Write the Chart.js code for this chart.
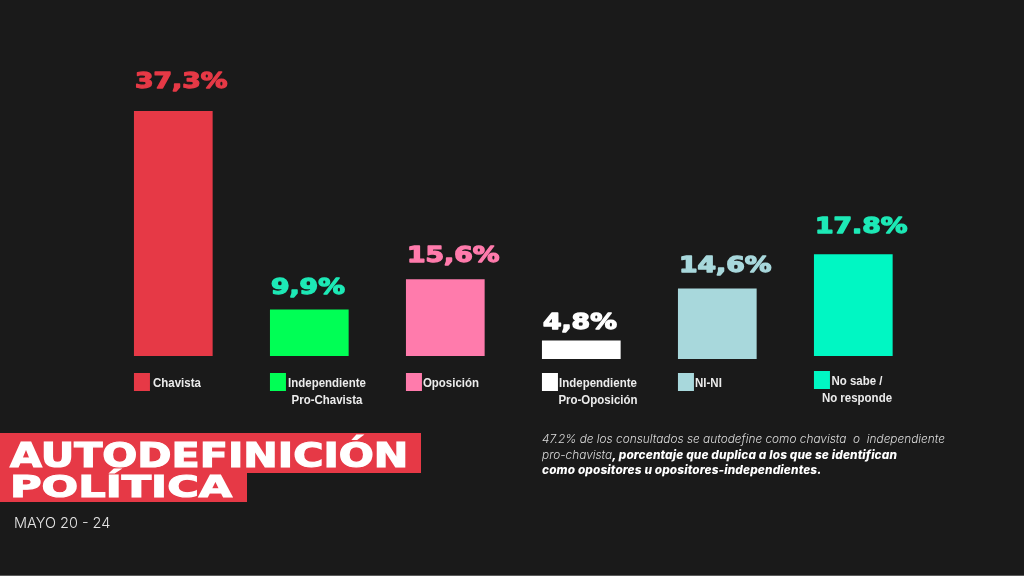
<!DOCTYPE html>
<html>
<head>
<meta charset="utf-8">
<script src="https://cdn.jsdelivr.net/npm/chart.js@4/dist/chart.umd.min.js"></script>
<style>
html, body { margin: 0; padding: 0; background: #1a1a1a; }
#page { position: relative; width: 1024px; height: 576px; overflow: hidden; background: #1a1a1a; }
#rateCanvas { position: absolute; left: 0; top: 0; }
.band { position: absolute; left: 0; background: #e63946; }
.head { position: absolute; font-family: "DejaVu Sans"; font-weight: bold; color: #fff; white-space: nowrap; transform-origin: 0 0; line-height: 1; -webkit-text-stroke: 1.2px #fff; }
#dates { position: absolute; left: 14px; top: 514px; font: 300 14.5px Inter; color: #e4e4e4; white-space: nowrap; }
#note { position: absolute; left: 542px; top: 432px; font: italic 300 11.85px/15.6px Inter; color: #dcdcdc; white-space: nowrap; }
#note b { font-weight: 800; color: #fff; letter-spacing: 0.12px; }
#edge { position: absolute; left: 0; right: 0; bottom: 0; height: 1px; background: #5a5a5a; }
</style>
</head>
<body>
<div id="page">
    <canvas id="rateCanvas" width="1024" height="576"></canvas>
    <div class="band" style="top:433px;width:421px;height:40px"></div>
    <div class="band" style="top:473px;width:247px;height:29px"></div>
    <div class="head" id="head1" style="left:10px;top:439px;font-size:33px;transform:scaleX(1.25)">AUTODEFINICIÓN</div>
    <div class="head" id="head2" style="left:10px;top:471px;font-size:31px;transform:scaleX(1.39)">POLÍTICA</div>
    <div id="dates">MAYO 20 - 24</div>
    <div id="note">47.2% de los consultados se autodefine como chavista&nbsp; o&nbsp; independiente<br>pro-chavista<b>, porcentaje que duplica a los que se identifican<br>como opositores u opositores-independientes.</b></div>
    <div id="edge"></div>
</div>
<script>
const categories = [['Chavista'], ['Independiente', 'Pro-Chavista'], ['Oposición'], ['Independiente', 'Pro-Oposición'], ['NI-NI'], ['No sabe /', 'No responde']];
const printedValues = ['37,3%', '9,9%', '15,6%', '4,8%', '14,6%', '17.8%'];
// bars in the picture are not to scale with their printed labels, these are the drawn lengths
const barStart = [0, 0, 0, -0.45, -0.45, 0];
const barEnd = [37.3, 7.1, 11.7, 2.35, 10.3, 15.5];
const barColors = ['#e63946', '#00ff55', '#ff7bac', '#ffffff', '#a8d8dc', '#00f7c3'];
const labelColors = ['#e63946', '#1de9b6', '#ff7bac', '#ffffff', '#a8d8dc', '#1de9b6'];

// Layout of the annotation text, in pixels relative to each bar
const valueGap = [23, 15, 17, 12, 16, 21];
const keyTop = [373, 373, 373, 373, 373, 371];
const keyTextCenter = [43, 57, 45, 56, 30.5, 43];
const VALUE_STRETCH = 1.3;
const KEY_SQUEEZE = 0.85;

const annotationPlugin = {
    id: 'annotations',
    afterDatasetsDraw(chart) {
        const ctx = chart.ctx;
        const bars = chart.getDatasetMeta(0).data;
        bars.forEach((bar, i) => {
            const left = bar.x - bar.width / 2;

            // printed value above the bar, stretched to look like the wide display face
            ctx.save();
            ctx.translate(left + 1, bar.y - valueGap[i]);
            ctx.scale(VALUE_STRETCH, 1);
            ctx.font = 'bold 20.5px "DejaVu Sans"';
            ctx.fillStyle = labelColors[i];
            ctx.strokeStyle = labelColors[i];
            ctx.lineWidth = 1.3;
            ctx.lineJoin = 'round';
            ctx.textAlign = 'left';
            ctx.textBaseline = 'alphabetic';
            ctx.strokeText(printedValues[i], 0, 0);
            ctx.fillText(printedValues[i], 0, 0);
            ctx.restore();

            // colour key under the bar
            ctx.fillStyle = barColors[i];
            ctx.fillRect(left, keyTop[i], 16, 18);

            // category name, squeezed since there is no narrow face installed
            ctx.save();
            ctx.translate(left + keyTextCenter[i], keyTop[i] + 10);
            ctx.scale(KEY_SQUEEZE, 1);
            ctx.font = 'bold 13.5px "Liberation Sans"';
            ctx.fillStyle = '#ececec';
            ctx.textAlign = 'center';
            ctx.textBaseline = 'middle';
            categories[i].forEach((line, n) => {
                ctx.fillText(line, 0, n * 17);
            });
            ctx.restore();
        });
    }
};

new Chart(document.getElementById('rateCanvas'), {
    type: 'bar',
    data: {
        labels: categories.map(c => c.join(' ')),
        datasets: [{
            data: barEnd.map((end, i) => [barStart[i], end]),
            backgroundColor: barColors,
            borderWidth: 0,
            categoryPercentage: 1,
            barPercentage: 78.7 / 136
        }]
    },
    options: {
        responsive: false,
        animation: false,
        layout: { padding: { left: 105.3, right: 102.7, top: 93.3, bottom: 213.4 } },
        plugins: { legend: { display: false }, tooltip: { enabled: false } },
        scales: {
            x: { display: false },
            y: { display: false, min: -1, max: 40 }
        }
    },
    plugins: [annotationPlugin]
});
</script>
</body>
</html>
